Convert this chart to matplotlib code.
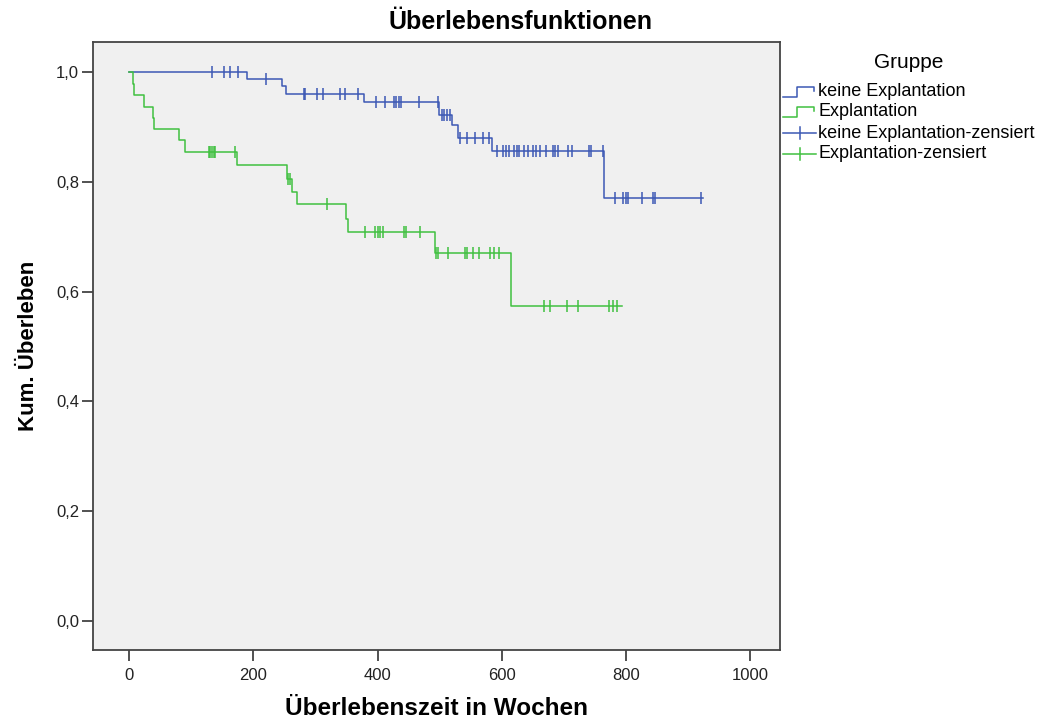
import numpy as np
import matplotlib.pyplot as plt
from matplotlib.lines import Line2D

plt.rcParams['font.family'] = ['Liberation Sans', 'DejaVu Sans']

# Kaplan-Meier step levels (weeks, cumulative survival)
blue_times = [0, 190, 246, 252, 379, 499, 520, 530, 584, 764]
blue_surv = [1.0, 0.987, 0.974, 0.961, 0.946, 0.922, 0.903, 0.881, 0.857, 0.770]
blue_end = 924
blue_censored = [134, 153, 163, 176, 221, 281, 284, 302, 313, 339, 348, 369,
                 398, 412, 427, 430, 434, 437, 466, 497, 503, 507, 512, 516,
                 532, 544, 557, 570, 580, 593, 602, 607, 612, 620, 624, 628,
                 635, 643, 650, 655, 661, 671, 682, 686, 690, 706, 713, 741,
                 744, 763, 782, 795, 800, 804, 826, 843, 846, 921]

green_times = [0, 7, 8, 24, 39, 40, 81, 90, 173, 254, 263, 271, 349, 353, 493, 615]
green_surv = [1.0, 0.979, 0.958, 0.937, 0.917, 0.896, 0.876, 0.855, 0.831,
              0.806, 0.782, 0.759, 0.732, 0.708, 0.671, 0.574]
green_end = 793
green_censored = [128, 130, 133, 136, 138, 171, 256, 259, 318, 380, 396, 400,
                  404, 408, 443, 446, 468, 494, 498, 514, 541, 544, 554, 564,
                  581, 587, 595, 668, 678, 705, 723, 772, 779, 786]

BLUE = '#3c58b4'
GREEN = '#40c040'


def level_at(times, surv, t):
    idx = np.searchsorted(times, t, side='right') - 1
    return np.array(surv)[idx]


fig = plt.figure(figsize=(10.42, 7.21), dpi=100)
ax = fig.add_axes([0.0893, 0.0985, 0.6593, 0.8432])
ax.set_facecolor('#f0f0f0')

for times, surv, end, cens, col in [
        (blue_times, blue_surv, blue_end, blue_censored, BLUE),
        (green_times, green_surv, green_end, green_censored, GREEN)]:
    xs = list(times) + [end]
    ys = list(surv) + [surv[-1]]
    ax.step(xs, ys, where='post', color=col, lw=1.1)
    ax.plot(cens, level_at(times, surv, cens), ls='none', marker='|',
            ms=9, mew=1.1, color=col)

ax.set_xlim(-58, 1048)
ax.set_ylim(-0.053, 1.055)
ax.set_xticks([0, 200, 400, 600, 800, 1000])
ax.set_yticks([0, 0.2, 0.4, 0.6, 0.8, 1.0])
ax.set_yticklabels(['0,0', '0,2', '0,4', '0,6', '0,8', '1,0'])
ax.tick_params(axis='both', labelsize=12, color='#333333', width=1.2,
               labelcolor='#222222')
ax.tick_params(axis='y', length=8, pad=2)
ax.tick_params(axis='x', length=8, pad=5)
for sp in ax.spines.values():
    sp.set_color('#444444')
    sp.set_linewidth(1.3)

ax.set_xlabel('Überlebenszeit in Wochen', fontsize=17.5, fontweight='bold', labelpad=10)
ax.set_ylabel('Kum. Überleben', fontsize=16, fontweight='bold', labelpad=12)
fig.text(0.5, 0.97, 'Überlebensfunktionen', ha='center', va='center',
         fontsize=18, fontweight='bold')

# legend drawn to the right of the plot box
def fx(px):
    return px / 1042


def fy(py):
    return 1 - py / 721


fig.text(fx(909), fy(63), 'Gruppe', ha='center', va='center', fontsize=15)
labels = ['keine Explantation', 'Explantation',
          'keine Explantation-zensiert', 'Explantation-zensiert']
rows = [92, 112, 133, 154]
cols = [BLUE, GREEN, BLUE, GREEN]
for i, (lab, py, col) in enumerate(zip(labels, rows, cols)):
    if i < 2:
        hx = [783, 797, 797, 814, 814]
        hy = [py + 5, py + 5, py - 5, py - 5, py - 1]
        fig.add_artist(Line2D([fx(v) for v in hx], [fy(v) for v in hy],
                              color=col, lw=1.1))
    else:
        fig.add_artist(Line2D([fx(783), fx(816)], [fy(py), fy(py)],
                              color=col, lw=1.1))
        fig.add_artist(Line2D([fx(800), fx(800)], [fy(py - 6), fy(py + 6)],
                              color=col, lw=1.1))
    fig.text(fx(818), fy(py), lab, ha='left', va='center', fontsize=13)

fig.savefig('out.png', dpi=100)
